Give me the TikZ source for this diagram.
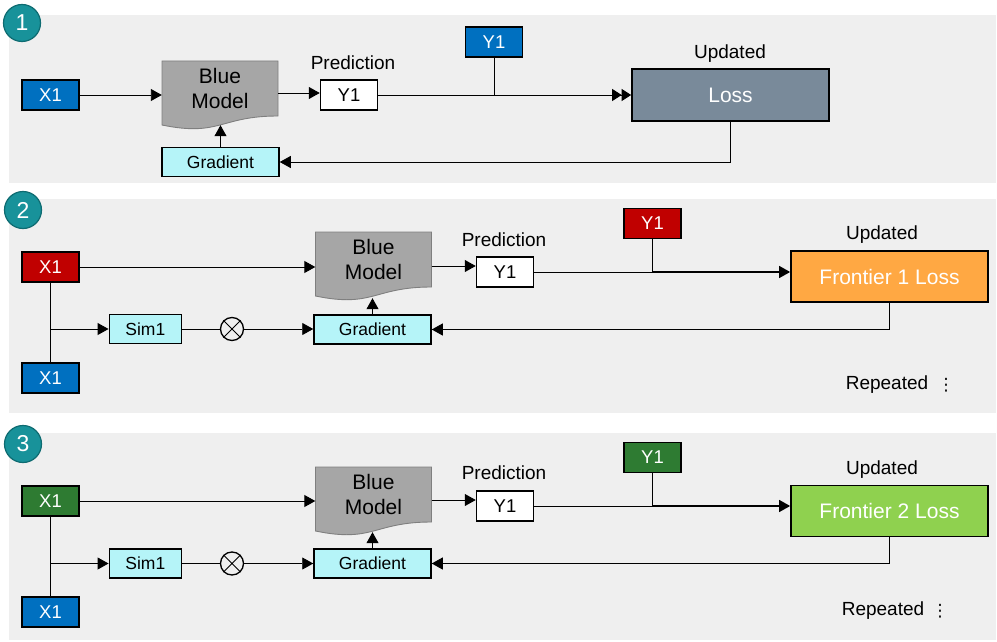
\documentclass[tikz,border=0pt]{standalone}
\usepackage{fontspec}
\setmainfont{Liberation Sans}
\newfontfamily\dvfont{DejaVu Sans}
\usetikzlibrary{arrows.meta,calc}
\definecolor{panelbg}{HTML}{EFEFEF}
\definecolor{xblue}{HTML}{0070C0}
\definecolor{xred}{HTML}{C00000}
\definecolor{xgreen}{HTML}{2E7B32}
\definecolor{gradcyan}{HTML}{B5F4F8}
\definecolor{lossgray}{HTML}{798A9A}
\definecolor{frontorange}{HTML}{FFA843}
\definecolor{frontgreen}{HTML}{8FD14F}
\definecolor{modelgray}{HTML}{A6A6A6}
\definecolor{modelborder}{HTML}{7F7F7F}
\definecolor{tealfill}{HTML}{18929A}
\definecolor{tealdraw}{HTML}{0E6B71}
\newcommand\docmodel[2]{%
  \begin{scope}[shift={(#1,#2)}]
    \draw[draw=modelborder, fill=modelgray, line width=0.9pt]
      (0,0) -- (116,0) -- (116,55) .. controls (58,55) and (58,76) .. (0,64) -- cycle;
  \end{scope}}
\tikzset{
  box/.style={draw=black, line width=1.5pt, inner sep=0pt, minimum width=57pt, minimum height=30pt,
     font=\fontsize{18.5}{22}\selectfont, text=white},
  predbox/.style={box, fill=white, text=black},
  gradbox/.style={draw=black, line width=1.5pt, fill=gradcyan, inner sep=0pt, minimum width=117pt,
     minimum height=29pt, font=\fontsize{17.5}{21}\selectfont},
  simbox/.style={gradbox, minimum width=72pt},
  lossbox/.style={draw=black, line width=1.7pt, inner sep=0pt, minimum width=197pt, minimum height=52pt,
     font=\fontsize{21}{25}\selectfont, text=white},
  modelnode/.style={inner sep=0pt, minimum width=116pt, minimum height=64pt},
  modeltext/.style={font=\fontsize{21}{25}\selectfont, align=center, inner sep=0pt},
  lbl/.style={font=\fontsize{19}{22}\selectfont, inner sep=0pt},
  numcirc/.style={circle, fill=tealfill, draw=tealdraw, line width=1.2pt, minimum size=37pt, inner sep=0pt,
     text=white, font=\fontsize{23}{27}\selectfont},
  otimes/.style={circle, draw=black, line width=1.3pt, minimum size=23pt, inner sep=0pt},
  conn/.style={line width=0.9pt},
  arr/.style={conn, -{Triangle[length=11pt,width=12pt]}},
  arr2/.style={conn, -{Triangle[length=9.5pt,width=12pt]Triangle[length=9.5pt,width=12pt]}},
}
\begin{document}
\begin{tikzpicture}[x=1pt,y=-1pt]
\useasboundingbox (0,0) rectangle (997,642);
% panels
\fill[panelbg] (9,15) rectangle (996,183);
\fill[panelbg] (9,199) rectangle (996,413);
\fill[panelbg] (9,433) rectangle (996,640);
\node[numcirc] (c1) at (22,23) {1};
\node[numcirc] (c2) at (23,210) {2};
\node[numcirc] (c3) at (23,444) {3};

% ===== Panel 1 =====
\docmodel{162}{61}
\node[modelnode] (m1) at (220,93) {};
\node[modeltext] (m1t) at (220,88) {Blue\\Model};
\node[box, fill=xblue] (x1a) at (50.5,95) {X1};
\node[gradbox] (g1) at (220.5,162) {Gradient};
\node[lbl] (pl1) at (353,63) {Prediction};
\node[predbox] (p1) at (349,95) {Y1};
\node[box, fill=xblue] (t1) at (494,42) {Y1};
\node[lossbox, fill=lossgray] (L1) at (730.5,95) {Loss};
\node[lbl] (u1) at (730,54) {Updated};
\draw[arr] (x1a.east) -- (x1a.east -| m1.west);
\draw[arr] (m1.east) -- (m1.east -| p1.west);
\draw[arr] (g1.north) -- (g1.north |- m1.south);
\draw[arr2] (p1.east) -- (p1.east -| L1.west);
\draw[conn] (t1.south) -- (t1.south |- p1.east);
\draw[arr] (L1.south) |- (g1.east);

% ===== Panel 2 =====
\docmodel{315.5}{232}
\node[modelnode] (m2) at (373.5,266) {};
\node[modeltext] (m2t) at (373.5,259) {Blue\\Model};
\node[box, fill=xred] (x2a) at (50.5,267) {X1};
\node[box, fill=xblue] (x2b) at (50.5,378) {X1};
\node[simbox] (s2) at (145.3,329) {Sim1};
\node[otimes] (o2) at (232,329) {};
\node[gradbox] (g2) at (372.5,329.5) {Gradient};
\node[lbl] (pl2) at (504,240) {Prediction};
\node[predbox] (p2) at (505,272) {Y1};
\node[box, fill=xred] (t2) at (652.5,223.5) {Y1};
\node[lossbox, fill=frontorange, minimum height=51pt] (L2) at (889.5,276.5) {Frontier 1 Loss};
\node[lbl] (u2) at (882,235) {Updated};
\node[lbl] (r2) at (887,385) {Repeated};
\node[lbl, font=\dvfont\fontsize{17}{20}\selectfont] (d2) at (946,385) {⋮};
\draw[conn] (o2.north east) -- (o2.south west) (o2.north west) -- (o2.south east);
\draw[arr] (x2a.east) -- (x2a.east -| m2.west);
\draw[conn] (x2a.south) -- (x2b.north);
\draw[arr] (x2a.south |- s2.west) -- (s2.west);
\draw[conn] (s2.east) -- (o2.west);
\draw[arr] (o2.east) -- (o2.east -| g2.west);
\draw[arr] (g2.north) -- (g2.north |- m2.south);
\draw[arr] (m2.east) -- (m2.east -| p2.west);
\draw[conn] (p2.east) -- (t2.south |- p2.east);
\draw[conn] (t2.south) -- (t2.south |- p2.east);
\draw[arr, line width=1.3pt] (t2.south |- p2.east) -- (p2.east -| L2.west);
\draw[arr] (L2.south) |- (g2.east);

% ===== Panel 3 =====
\docmodel{315.5}{467}
\node[modelnode] (m3) at (373.5,500) {};
\node[modeltext] (m3t) at (373.5,494) {Blue\\Model};
\node[box, fill=xgreen] (x3a) at (50.5,501) {X1};
\node[box, fill=xblue] (x3b) at (50.5,612) {X1};
\node[simbox] (s3) at (145.3,563.5) {Sim1};
\node[otimes] (o3) at (232,563.5) {};
\node[gradbox] (g3) at (372.5,563.5) {Gradient};
\node[lbl] (pl3) at (504,473) {Prediction};
\node[predbox] (p3) at (505,506) {Y1};
\node[box, fill=xgreen] (t3) at (652.5,457.5) {Y1};
\node[lossbox, fill=frontgreen, minimum height=51pt] (L3) at (889.5,511) {Frontier 2 Loss};
\node[lbl] (u3) at (882,470) {Updated};
\node[lbl] (r3) at (883,611) {Repeated};
\node[lbl, font=\dvfont\fontsize{17}{20}\selectfont] (d3) at (940,611) {⋮};
\draw[conn] (o3.north east) -- (o3.south west) (o3.north west) -- (o3.south east);
\draw[arr] (x3a.east) -- (x3a.east -| m3.west);
\draw[conn] (x3a.south) -- (x3b.north);
\draw[arr] (x3a.south |- s3.west) -- (s3.west);
\draw[conn] (s3.east) -- (o3.west);
\draw[arr] (o3.east) -- (o3.east -| g3.west);
\draw[arr] (g3.north) -- (g3.north |- m3.south);
\draw[arr] (m3.east) -- (m3.east -| p3.west);
\draw[conn] (p3.east) -- (t3.south |- p3.east);
\draw[conn] (t3.south) -- (t3.south |- p3.east);
\draw[arr, line width=1.3pt] (t3.south |- p3.east) -- (p3.east -| L3.west);
\draw[arr] (L3.south) |- (g3.east);
\end{tikzpicture}
\end{document}
